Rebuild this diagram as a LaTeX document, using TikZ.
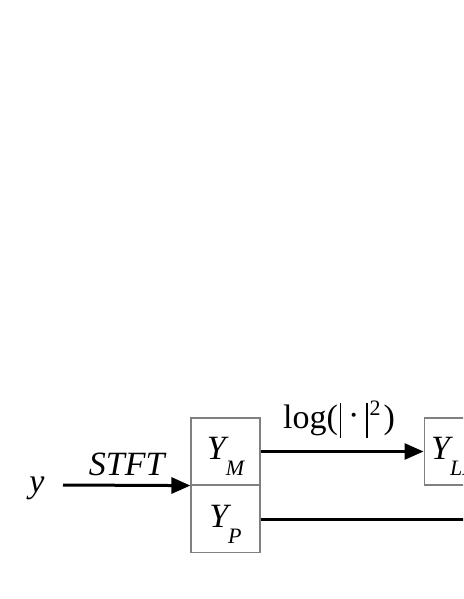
\documentclass[tikz,border=0pt]{standalone}
\usepackage{fontspec}
\setmainfont{Liberation Serif}
\usetikzlibrary{arrows.meta,calc}
\definecolor{boxgray}{RGB}{128,128,128}
\newcommand{\mainsize}{\fontsize{34}{40}\selectfont}
\newcommand{\subsize}{\fontsize{22}{24}\selectfont}
\begin{document}
\begin{tikzpicture}[x=1pt,y=-1pt,
  cell/.style={draw=boxgray,line width=1.2pt,minimum width=69pt,minimum height=67pt,inner sep=0pt,font=\mainsize,text height=20pt,text depth=4pt},
  flow/.style={line width=3pt},
  flowarrow/.style={flow,-{Triangle[length=19pt,width=16pt]}},
  lbl/.style={font=\mainsize,inner sep=0pt,anchor=base}]
\useasboundingbox (0,0) rectangle (463,599);
\clip (0,0) rectangle (463,599);
\node[cell] (ym) at (225.5,451.5) {\itshape Y\kern0pt\raisebox{-16pt}{\subsize M}};
\node[cell] (yp) at (225.5,519) {\itshape Y\kern0pt\raisebox{-16pt}{\subsize P}};
\node[cell,minimum width=80pt,anchor=west,text width=66pt,align=left,inner xsep=6pt] (ylp) at (423.5,451.5) {\itshape Y\kern0pt\raisebox{-16pt}{\subsize LP}};
\coordinate (yin) at (63,485);
\coordinate (pout) at (475,519);
\node[lbl,anchor=base] (ylab) at (37,492) {\itshape y};
\draw[flowarrow] (yin) -- (ym.south west) node[lbl,midway,yshift=10pt] (stft) {\itshape STFT};
\draw[flowarrow] (ym.east) -- (ylp.west) node[lbl,midway,yshift=23pt,xshift=-3pt] (logl) {log(\kern2pt\rule[-9pt]{1.2pt}{35pt}\kern7pt\raisebox{2pt}{·}\kern7pt\rule[-9pt]{1.2pt}{35pt}\kern2pt\raisebox{13pt}{\subsize 2}\kern3pt)};
\draw[flow] (yp.east) -- (pout);
\end{tikzpicture}
\end{document}
